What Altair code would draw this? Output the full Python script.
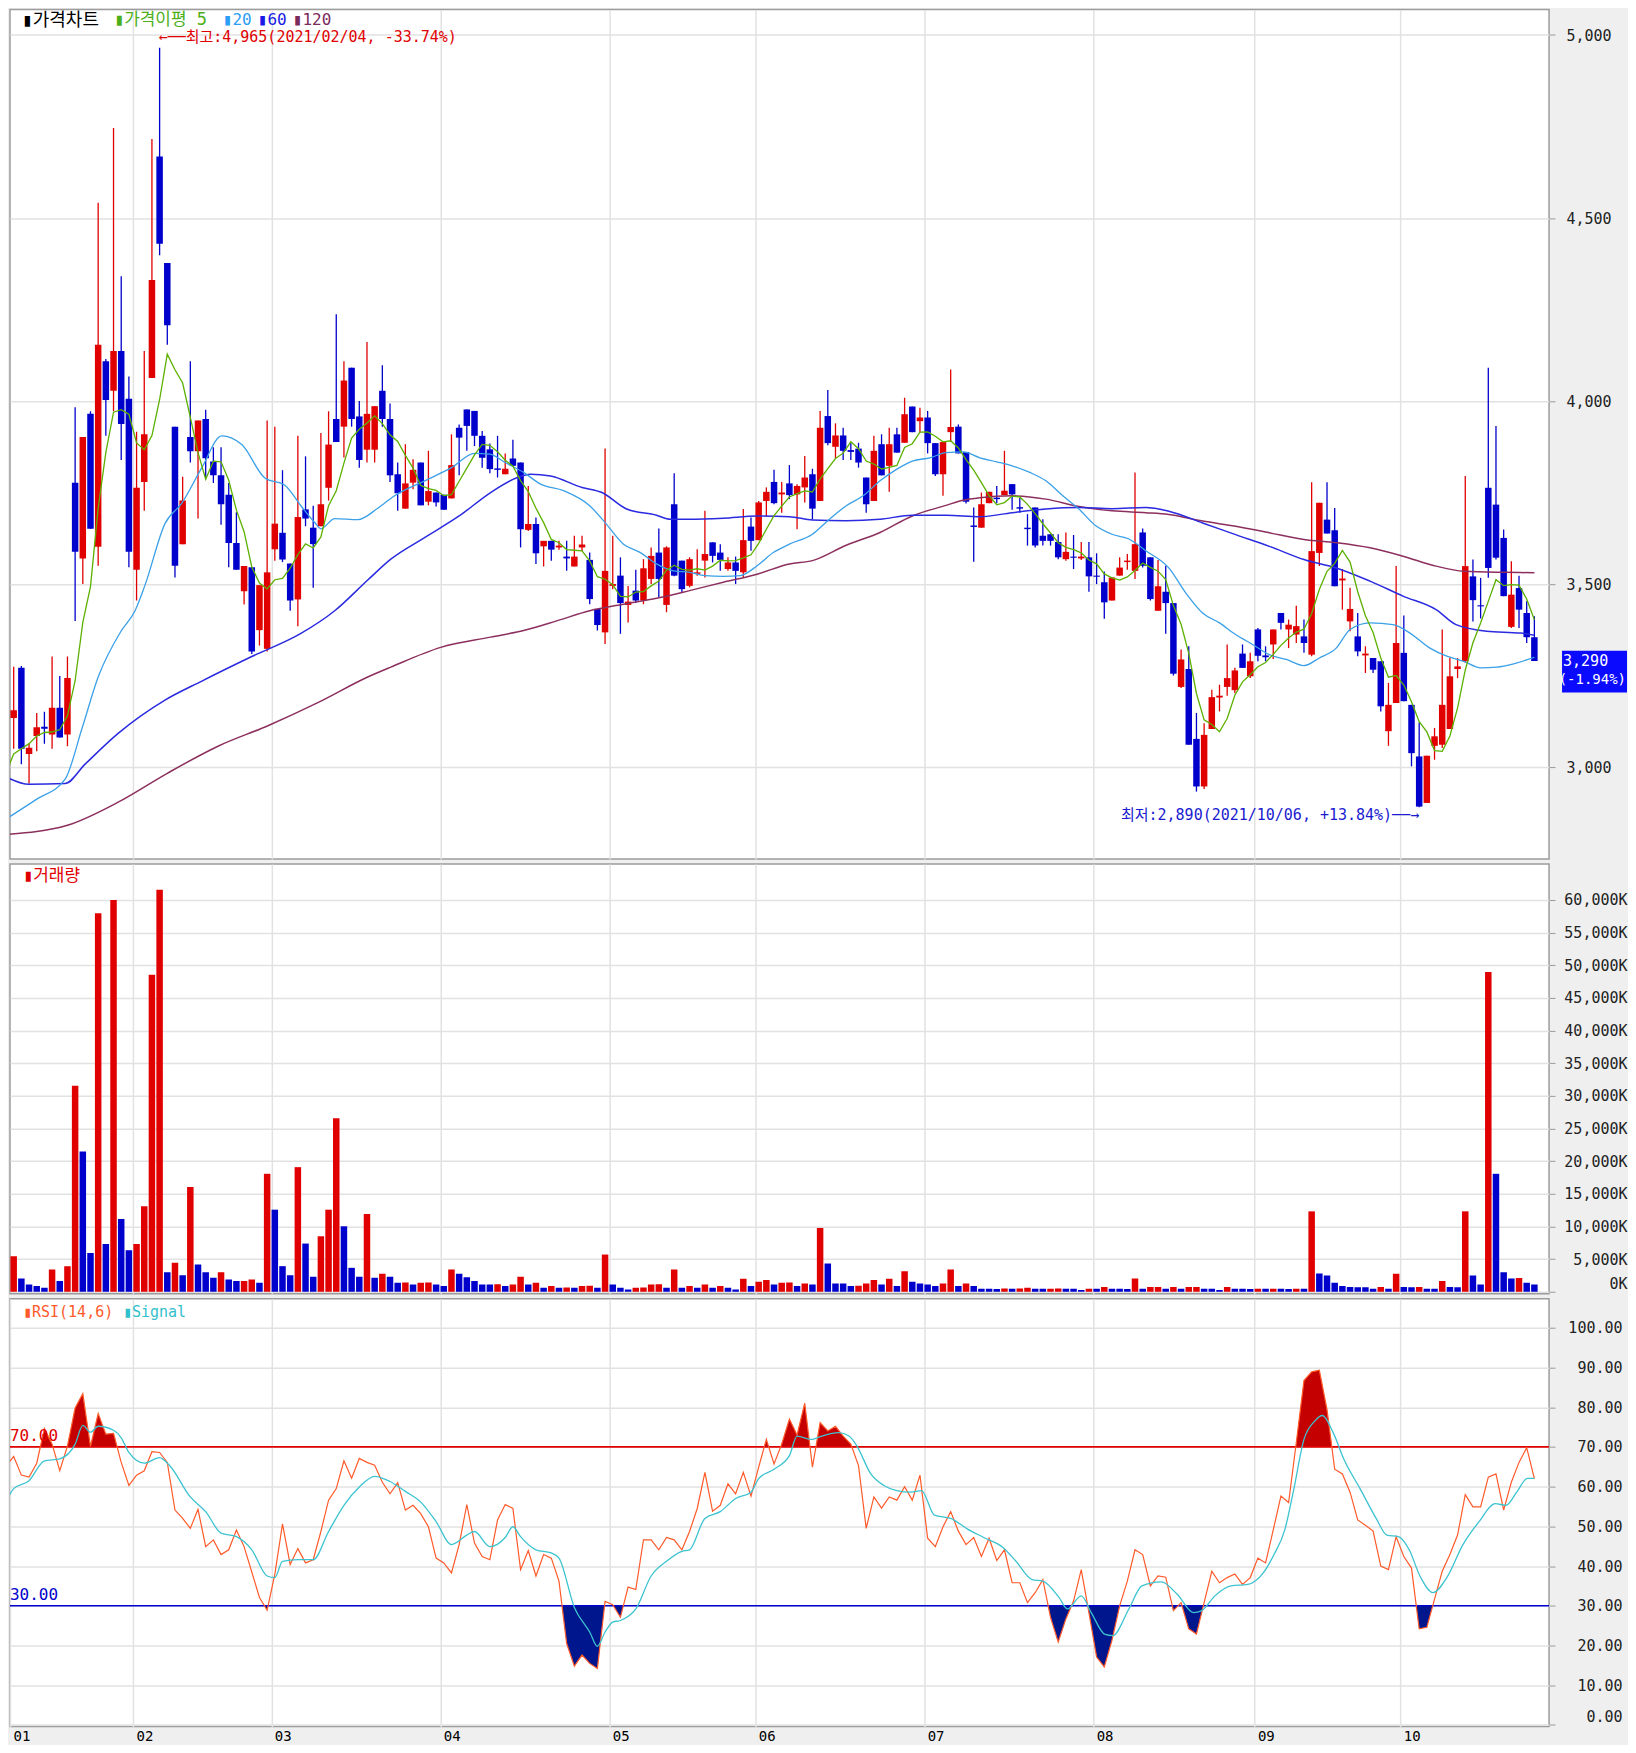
import altair as alt
import pandas as pd

# ---------------- data ----------------
month_labels = ["01", "02", "03", "04", "05", "06", "07", "08", "09", "10"]
month_start = [0, 17, 35, 57, 79, 98, 120, 142, 163, 182]

opens = [3040,3134,3271,3036,3085,3110,3089,3162,3089,3777,
 3570,3965,3602,4109,4028,4137,4006,3539,3779,4063,
 4668,4377,3930,3609,3902,3863,3951,3835,3797,3744,
 3612,3480,3546,3374,3323,3595,3640,3556,3458,3704,
 3654,3658,3763,3951,3930,4091,3958,3867,3867,4028,
 3951,3800,3706,3777,3832,3725,3750,3744,3734,3927,
 3977,3973,3905,3868,3816,3800,3843,3832,3648,3664,
 3603,3618,3600,3575,3548,3600,3566,3432,3368,3495,
 3523,3443,3482,3455,3514,3586,3443,3718,3564,3495,
 3528,3564,3614,3586,3541,3559,3532,3657,3620,3727,
 3779,3745,3775,3745,3764,3800,3727,3959,3875,3906,
 3866,3870,3791,3727,3882,3823,3909,3886,3985,3945,
 3955,3885,3800,3915,3930,3861,3660,3654,3721,3736,
 3743,3773,3710,3654,3709,3632,3636,3615,3568,3575,
 3570,3573,3523,3505,3455,3523,3560,3536,3641,3573,
 3427,3479,3448,3219,3268,3077,2947,3104,3190,3219,
 3210,3310,3248,3376,3305,3335,3421,3376,3362,3357,
 3307,3585,3676,3647,3510,3398,3357,3305,3298,3289,
 3098,3175,3312,3170,3029,2902,3058,3061,3104,3268,
 3289,3521,3442,3763,3717,3626,3383,3489,3421,3355]
highs = [3081,3274,3276,3064,3148,3151,3302,3249,3302,3983,
 3902,3972,4542,4115,4746,4341,4067,3916,4137,4716,
 4965,4377,3930,3793,4109,3947,3976,3874,3874,3776,
 3696,3549,3546,3497,3947,3930,3811,3556,3905,3849,
 3714,3913,3972,4237,4109,4091,4000,4161,3986,4098,
 3993,3832,3882,3841,3832,3864,3750,3744,3909,3936,
 3977,3973,3918,3884,3905,3857,3894,3832,3768,3682,
 3618,3618,3618,3618,3632,3632,3586,3432,3870,3632,
 3573,3495,3539,3568,3600,3652,3603,3803,3564,3573,
 3595,3700,3614,3609,3573,3575,3705,3682,3727,3764,
 3812,3779,3825,3773,3850,3815,3973,4030,3939,3927,
 3886,3886,3791,3905,3909,3927,3927,4009,3985,3982,
 3973,3885,3888,4086,3936,3861,3709,3750,3752,3768,
 3864,3773,3736,3691,3709,3677,3636,3636,3641,3634,
 3615,3615,3584,3534,3518,3573,3582,3805,3652,3573,
 3566,3550,3448,3321,3330,3148,3120,3211,3225,3335,
 3271,3335,3312,3380,3330,3376,3421,3403,3441,3403,
 3778,3722,3778,3708,3541,3490,3421,3330,3298,3289,
 3230,3549,3414,3170,3122,3031,3107,3376,3298,3298,
 3795,3567,3517,4091,3932,3649,3562,3523,3453,3412]
lows = [3011,3050,3008,2955,3043,3064,3050,3081,3057,3399,
 3500,3651,3550,3905,3972,3839,3546,3455,3700,4063,
 4398,4154,3518,3609,3832,3679,3788,3776,3662,3546,
 3539,3444,3309,3332,3316,3564,3560,3427,3385,3658,
 3490,3658,3728,3888,3846,3930,3818,3832,3832,3930,
 3779,3700,3706,3759,3715,3715,3712,3703,3734,3797,
 3864,3877,3818,3803,3791,3800,3823,3600,3645,3555,
 3548,3564,3594,3536,3548,3590,3445,3373,3336,3486,
 3364,3395,3448,3445,3500,3464,3423,3521,3477,3491,
 3523,3518,3559,3536,3536,3500,3518,3591,3620,3684,
 3718,3695,3732,3650,3723,3677,3727,3879,3843,3839,
 3839,3818,3695,3727,3797,3752,3859,3886,3915,3914,
 3857,3795,3741,3888,3857,3720,3561,3654,3721,3721,
 3743,3703,3695,3605,3600,3605,3605,3568,3564,3541,
 3566,3479,3500,3405,3455,3523,3539,3514,3545,3455,
 3427,3364,3250,3216,3061,2933,2940,3104,3152,3195,
 3202,3271,3243,3289,3289,3295,3376,3325,3339,3312,
 3303,3549,3638,3494,3430,3371,3303,3257,3257,3152,
 3058,3175,3180,3002,2890,2902,3020,3052,3104,3243,
 3285,3398,3406,3517,3567,3467,3380,3380,3339,3290]
closes = [3057,3155,3050,3053,3109,3105,3162,3081,3243,3588,
 3902,3651,4154,4003,4137,3937,3588,3763,3909,4331,
 4430,4207,3550,3728,3863,3947,3844,3797,3718,3612,
 3539,3549,3316,3497,3532,3665,3567,3455,3683,3679,
 3609,3718,3881,3888,4056,3951,3839,3965,3986,3951,
 3797,3748,3775,3812,3715,3754,3723,3703,3825,3900,
 3932,3905,3845,3814,3812,3815,3823,3650,3664,3584,
 3618,3594,3605,3570,3575,3608,3459,3388,3536,3500,
 3448,3452,3455,3543,3577,3514,3600,3523,3486,3568,
 3532,3582,3577,3566,3559,3536,3620,3618,3723,3752,
 3721,3750,3743,3768,3791,3706,3927,3885,3906,3864,
 3861,3832,3718,3864,3797,3882,3859,3964,3915,3955,
 3885,3800,3888,3929,3857,3725,3656,3718,3752,3732,
 3755,3745,3706,3650,3605,3618,3618,3573,3588,3572,
 3575,3521,3520,3450,3518,3545,3564,3609,3550,3459,
 3494,3448,3255,3294,3061,2947,3088,3191,3195,3243,
 3264,3271,3289,3304,3300,3376,3394,3389,3385,3339,
 3590,3722,3638,3494,3515,3432,3316,3310,3266,3166,
 3170,3339,3180,3038,2892,3031,3084,3170,3248,3275,
 3549,3456,3439,3544,3572,3467,3471,3430,3355,3290]

# volume in thousands of shares; colour flag: r = above previous day, b = below
volumes = [1100,5440,2035,1119,865,610,3408,1628,3917,31536,
 21465,5951,57934,7325,59969,11139,6358,7325,13072,48525,
 61546,3000,4425,2543,16022,4171,3001,2136,3001,1882,
 1628,1650,1880,1373,18057,12563,3917,2543,19074,7376,
 2289,8494,12563,26551,10020,3662,2289,11902,2136,2747,
 2289,1373,1420,1119,1373,1400,1119,865,3408,2747,
 2238,1628,1119,1100,1150,865,1119,2289,1119,1373,
 610,865,610,650,610,865,900,610,5697,1119,
 610,356,610,650,1119,1150,610,3408,610,865,
 610,1119,610,865,610,356,1984,865,1526,1780,
 1119,1373,1400,865,1272,1119,9766,4323,1272,1250,
 865,900,1272,1780,1119,1984,865,3154,1526,1272,
 1119,865,1272,3408,865,1272,865,458,450,440,
 480,450,480,610,458,450,470,480,458,450,
 254,458,450,712,458,450,440,2035,458,712,
 720,458,712,458,712,720,458,450,254,712,
 458,450,440,458,450,458,450,440,458,450,
 12309,2798,2492,1373,865,712,700,690,458,712,
 458,2747,712,700,720,458,450,1628,712,700,
 12309,2492,1119,48932,18057,3001,2035,2100,1373,1119]
vol_flag = ("brbbbbrbrr" "bbrbrbbrrr" "rbrbrbbbrb" "brrbrbbbrb" "brrrbbbrbr"
            "bbrbrrbbrb" "bbbbrbrrbr" "brbrbrrbrb" "bbrrrrbrbr" "brbrbbrbrr"
            "brrbrbrbbb" "brrrbrbrbb" "bbrrbrbbbb" "rbrrbbrrbb" "brbrbbbrbr"
            "rbrbrrbbbr" "bbbrbrbbrb" "rbbbbbbbbr" "brbbrbbrbb" "rbbrbbbrbb")

rsi = [65.1,67.6,62.9,62.4,65.9,74.6,70.7,64.0,70.2,79.8,
 83.4,70.1,78.4,73.2,73.4,66.1,60.3,62.9,64.0,68.8,
 68.6,66.1,54.1,52.0,49.5,54.3,44.9,46.6,42.9,44.1,
 49.1,44.9,38.5,32.1,28.9,37.9,50.6,40.4,44.4,40.8,
 41.6,48.7,56.6,59.5,66.5,62.1,67.1,66.1,65.4,61.1,
 58.2,61.0,54.1,55.3,53.2,49.9,42.0,40.8,38.3,45.4,
 55.5,45.8,42.4,41.6,51.6,55.5,54.5,39.1,43.9,37.5,
 42.9,42.0,36.2,20.5,14.8,17.6,15.5,14.2,31.1,30.3,
 27.1,34.7,34.1,46.6,46.6,44.1,47.2,46.6,44.1,48.7,
 54.5,63.6,53.8,55.3,60.7,58.2,63.6,57.6,64.9,71.9,
 65.7,70.7,77.0,73.0,81.0,64.9,76.1,74.0,75.2,72.7,
 70.7,65.3,49.5,57.4,54.6,57.4,56.6,60.0,56.6,62.9,
 47.0,44.9,49.9,53.7,48.8,45.4,47.2,42.4,47.0,41.4,
 44.1,35.8,35.8,30.8,33.3,36.6,27.1,20.9,26.7,31.2,
 39.1,28.3,17.1,14.6,21.3,30.0,36.2,44.1,42.9,35.0,
 37.5,37.2,28.8,30.8,24.2,22.9,30.8,38.7,35.8,37.1,
 38.0,35.4,37.1,42.0,40.8,49.1,57.6,56.0,71.1,86.7,
 88.9,89.3,79.4,64.4,63.2,58.6,51.6,50.3,48.8,40.0,
 39.1,47.4,42.4,39.5,24.2,24.6,31.7,38.7,42.9,47.8,
 58.0,54.9,54.9,62.4,63.2,54.1,61.1,66.1,69.8,62.0]

sig_i = [0,1,3,5,7,9,10,11,12,14,
 15,16,18,20,21.3,24,26,28,30,32,
 34,35,36,38,40,42,44,46,48,50,
 52,54,56,58,60,61,63,65,66,67,
 69,71,72,74,76,77,78,79,80,82,
 84,86,88,89,91,93,95,97,98,100,
 102,103,104.9,106,108.4,109.8,110.8,112.6,114.3,116,
 117.8,119.2,120.9,123,125.2,127.3,129.8,131.5,133.6,135,
 137.1,138.2,140,141.3,143.1,144.1,146.2,147.9,150.4,152.5,
 154.6,155.7,157.4,159.5,161.7,163.7,165.1,166.5,167.6,169,
 170.4,171.4,172.8,174.2,176.3,178.4,179.8,181.3,182.7,184.1,
 185.8,187.6,189.7,191.8,193.9,195.3,196.7,198.1,199]
sig_v = [56,59.5,61.5,66.5,67,70.7,75.4,73.7,75.2,74.2,
 72.3,68.6,65.9,67.3,65.3,57.4,53.7,48.3,47.4,44.1,
 37.5,37.1,41.2,41.6,41.6,48.7,55.3,59.9,62.6,61.3,
 58.8,56.1,51.2,45.4,47.8,48.7,44.9,47.2,49.9,47.4,
 44.1,43.3,42,29.6,23.4,19.8,23.4,25.9,26.3,29.2,
 37.5,41.2,43.7,44.1,52,53.7,57,58.6,62,64.4,
 67.8,72.7,71.9,72.6,73.6,72.7,70.2,63.2,60.3,59,
 58.6,59,52.8,52,49.3,47.2,44.7,41.2,36.6,36.2,
 32.1,29.2,32.5,28.3,22.8,22.5,29.2,35,36,32.9,
 28.3,28.8,32.5,35,35.4,38.3,42.9,49.1,58.6,71.9,
 76.5,77.9,73.6,66.9,59.5,52,47.8,47.4,44.1,37.5,
 33.3,37.1,45.4,51.2,55.7,55.3,58.6,62.1,62.1]

ma5_head = [2983, 3036, 3050, 3064]
ma20_i = [0,3.9,7.7,9.9,12,15,16.8,18.1,20.7,22.9,
 25.5,28.1,30.7,33.7,36.3,38.4,40.2,41,42.8,45.8,
 48.4,50.5,54.5,58,61,63,65,67.4,69.6,72.6,
 76,78,80.4,82.6,84.7,86.9,89,91,93.4,95.6,
 97.8,99.9,102,105,107,109.4,111.6,113.8,116,118,
 120.3,122.4,124.6,126.8,129,131,133.3,135.4,137.6,139.7,
 141.9,144,146.2,148.4,151.4,153.6,155.8,158,160.1,162.3,
 164.5,166.7,169,171,173.2,175,177.6,180.6,182.8,185.4,
 187.6,189.8,192,194.1,196.3,199]
ma20_v = [2858,2911,2967,3106,3246,3372,3427,3497,3665,3721,
 3818,3905,3881,3790,3770,3714,3668,3651,3679,3676,
 3707,3740,3782,3818,3857,3855,3832,3805,3773,3755,
 3714,3668,3609,3586,3555,3536,3532,3523,3521,3523,
 3550,3586,3609,3636,3673,3714,3741,3782,3814,3836,
 3845,3859,3861,3845,3834,3823,3805,3782,3741,3705,
 3659,3636,3623,3591,3544,3476,3421,3394,3362,3335,
 3307,3294,3277,3298,3325,3376,3394,3389,3366,3325,
 3303,3289,3271,3273,3282,3300]
ma60_i = [0,3,7.7,10.3,14.6,20.7,25.5,32,38.4,42.8,
 47.1,50.1,54.5,59,63.1,66.6,68.3,70.9,75,77.6,
 80.8,84.7,86.5,89,93.4,97.8,102,105,109.4,113.8,
 118,122.4,126.8,131,135.4,139.7,144,148.4,151.4,155.8,
 160.1,164.5,169,173.2,177.6,181.9,186.2,188.8,192.8,197.2,199]
ma60_v = [2973,2953,2955,3008,3092,3183,3235,3302,3365,3427,
 3511,3568,3627,3686,3750,3791,3800,3795,3764,3750,
 3705,3688,3677,3677,3680,3686,3684,3675,3673,3677,
 3688,3688,3684,3695,3705,3709,3706,3709,3699,3667,
 3635,3603,3567,3544,3508,3467,3430,3389,3371,3366,3360]
ma120_i = [0,8,14.6,21,27.6,34.1,40.6,47.1,50.1,56.6,
 63.1,67.4,71.8,76,80.4,84.7,89,93.4,97.8,102,
 105,109.4,113.8,118,122.4,124.6,126.8,131,135.4,139.7,
 144,148.4,151.4,155.8,160.1,164.5,169,173.2,177.6,181.9,
 186.2,189.8,195,199]
ma120_v = [2816,2841,2904,2983,3057,3113,3176,3246,3273,3327,
 3355,3373,3400,3427,3445,3461,3482,3505,3527,3555,
 3564,3606,3641,3686,3715,3729,3736,3741,3732,3712,
 3700,3695,3690,3672,3658,3640,3622,3613,3599,3576,
 3549,3535,3532,3531]

hi_note = "←──최고:4,965(2021/02/04, -33.74%)"
hi_idx = 20
lo_note = "최저:2,890(2021/10/06, +13.84%)──→"
lo_idx = 184

# ---------------- style ----------------
RED = "#e00000"
BLUE = "#0000cc"
GRID = "#e2e2e2"
MONO = "DejaVu Sans Mono"
KR = "DejaVu Sans Mono, Noto Sans CJK KR"
W = 1540
H_P, H_V, H_R = 850, 430, 428
XMIN, XMAX = 0.52, 200.91

N = len(closes)
idx = list(range(N))
cd = pd.DataFrame({"i": idx, "o": opens, "h": highs, "l": lows, "c": closes})
cd["dir"] = ["up" if c >= o else "down" for o, c in zip(opens, closes)]
ma5 = list(ma5_head) + [sum(closes[k - 4:k + 1]) / 5 for k in range(4, N)]

xscale = alt.Scale(domain=[XMIN, XMAX], nice=False, zero=False, padding=0)
grid_vals = [s - 0.45 for s in month_start[1:]]
x_hidden = alt.Axis(values=grid_vals, grid=True, gridColor=GRID, gridWidth=1.5,
                    labels=False, ticks=False, domain=False, title=None)
expr = f"'{month_labels[-1]}'"
for k in range(len(grid_vals) - 1, -1, -1):
    expr = f"datum.value < {grid_vals[k] - 0.2:.2f} ? '{month_labels[k]}' : ({expr})"
x_full = alt.Axis(values=[XMIN + 0.01] + grid_vals, labelExpr=expr, grid=True, gridColor=GRID,
                  gridWidth=1.5, ticks=False, domain=False, title=None, labelAlign="left",
                  labelBaseline="top", labelPadding=3, labelOffset=3, labelFont=MONO,
                  labelFontSize=14, labelColor="#000", labelFlush=False, labelOverlap=False)

updown = alt.Scale(domain=["up", "down"], range=[RED, BLUE])


def label(text, x, y, color, size=17, font=KR, align="left"):
    return alt.Chart(pd.DataFrame({"t": [text]})).mark_text(
        align=align, baseline="top", color=color, fontSize=size, font=font
    ).encode(x=alt.value(x), y=alt.value(y), text="t:N")


# ---------------- price panel ----------------
pscale = alt.Scale(domain=[2748.8, 5069.6], nice=False, zero=False)
paxis = alt.Axis(orient="right", values=[3000, 3500, 4000, 4500, 5000], format=",.0f", grid=True,
                 gridColor=GRID, gridWidth=1.5, tickColor="#9a9a9a", tickSize=6,
                 labelAlign="right", labelPadding=56, labelFont=MONO, labelFontSize=15,
                 labelColor="#222", domain=False, title=None)


def PX():
    return alt.X("i:Q", scale=xscale, axis=x_hidden)


def PY(f):
    return alt.Y(f"{f}:Q", scale=pscale, axis=paxis)


base = alt.Chart(cd)
wick = base.mark_rule(strokeWidth=1.3, clip=True).encode(
    x=PX(), y=PY("l"), y2="h:Q", color=alt.Color("dir:N", scale=updown, legend=None))
body = base.mark_bar(size=6.5, clip=True).encode(
    x=PX(), y=PY("o"), y2="c:Q", color=alt.Color("dir:N", scale=updown, legend=None))


def ma_line(ii, vv, color, width):
    return alt.Chart(pd.DataFrame({"i": ii, "v": vv})).mark_line(
        color=color, strokeWidth=width, interpolate="monotone", clip=True).encode(x=PX(), y=PY("v"))


l120 = ma_line(ma120_i, ma120_v, "#8c2f5e", 1.5)
l60 = ma_line(ma60_i, ma60_v, "#2a2ae0", 1.5)
l20 = ma_line(ma20_i, ma20_v, "#3aa0e8", 1.3)
l5 = alt.Chart(pd.DataFrame({"i": idx, "v": ma5})).mark_line(
    color="#5cb000", strokeWidth=1.3, clip=True).encode(x=PX(), y=PY("v"))

hi_df = pd.DataFrame({"i": [hi_idx], "p": [highs[hi_idx]], "t": [hi_note]})
hi_txt = alt.Chart(hi_df).mark_text(align="left", baseline="middle", dx=-1, dy=-11, color=RED,
                                    fontSize=15, font=KR).encode(x=PX(), y=PY("p"), text="t:N")
lo_df = pd.DataFrame({"i": [lo_idx], "p": [lows[lo_idx]], "t": [lo_note]})
lo_txt = alt.Chart(lo_df).mark_text(align="right", baseline="middle", dx=0, dy=8, color="#1a1ad0",
                                    fontSize=15, font=KR).encode(x=PX(), y=PY("p"), text="t:N")

last, prev = closes[-1], closes[-2]
box_df = pd.DataFrame({"top": [last + 28], "bot": [last - 86]})
box = alt.Chart(box_df).mark_rect(color="#0a0aff").encode(
    x=alt.value(1553), x2=alt.value(1618), y=PY("top"), y2="bot:Q")
pct = (last / prev - 1) * 100
cur_df = pd.DataFrame({"p": [last], "t1": [f"{last:,}"], "t2": [f"({pct:.2f}%)"]})
cur1 = alt.Chart(cur_df).mark_text(align="left", baseline="middle", color="white", fontSize=15,
                                   font=MONO).encode(x=alt.value(1554), y=PY("p"), text="t1:N")
cur2 = alt.Chart(cur_df).mark_text(align="right", baseline="middle", dy=19, color="white",
                                   fontSize=14, font=MONO).encode(x=alt.value(1617), y=PY("p"), text="t2:N")

price = alt.layer(
    wick, body, l120, l60, l20, l5, hi_txt, lo_txt, box, cur1, cur2,
    label("▮가격차트", 12, 2.5, "#000", size=18),
    label("▮가격이평 5", 104, 2.5, "#4caf1a"),
    label("▮20", 213, 2.5, "#2a9df4", size=16),
    label("▮60", 248, 2.5, "#1a1ae6", size=16),
    label("▮120", 283, 2.5, "#7b2a5c", size=16),
).properties(width=W, height=H_P)

# ---------------- volume panel ----------------
vd = pd.DataFrame({"i": idx, "v": volumes, "f": ["up" if ch == "r" else "down" for ch in vol_flag]})
vscale = alt.Scale(domain=[-305, 65482], nice=False, zero=False)
vaxis = alt.Axis(orient="right", values=list(range(0, 60001, 5000)),
                 labelExpr="format(datum.value, ',') + 'K'", grid=True, gridColor=GRID,
                 gridWidth=1.5, tickColor="#9a9a9a", tickSize=6, labelAlign="right",
                 labelPadding=72, labelFont=MONO, labelFontSize=15, labelColor="#222",
                 domain=False, title=None, labelFlush=10)
vbars = alt.Chart(vd).mark_bar(size=6.5, clip=True).encode(
    x=alt.X("i:Q", scale=xscale, axis=x_hidden),
    y=alt.Y("v:Q", scale=vscale, axis=vaxis),
    color=alt.Color("f:N", scale=updown, legend=None))
volume = alt.layer(vbars, label("▮거래량", 13, 4, RED)).properties(width=W, height=H_V)

# ---------------- RSI panel ----------------
pts = []
for k in range(N):
    pts.append((float(k), rsi[k]))
    if k < N - 1:
        a, b = rsi[k], rsi[k + 1]
        for lvl in (70, 30):
            if (a - lvl) * (b - lvl) < 0:
                pts.append((k + (lvl - a) / (b - a), float(lvl)))
pts.sort()
dense = pd.DataFrame(pts, columns=["i", "r"])
dense["hi"] = dense["r"].clip(lower=70)
dense["lo"] = dense["r"].clip(upper=30)
dense["b70"] = 70.0
dense["b30"] = 30.0

rscale = alt.Scale(domain=[-0.38, 107.3], nice=False, zero=False)
raxis = alt.Axis(orient="right", values=list(range(0, 101, 10)), format=".2f", grid=True,
                 gridColor=GRID, gridWidth=1.5, tickColor="#9a9a9a", tickSize=6,
                 labelAlign="right", labelPadding=67, labelFont=MONO, labelFontSize=15,
                 labelColor="#222", domain=False, title=None, labelFlush=10)


def RX():
    return alt.X("i:Q", scale=xscale, axis=x_full)


def RY(f):
    return alt.Y(f"{f}:Q", scale=rscale, axis=raxis)


fill_hi = alt.Chart(dense).mark_area(color="#c40000", clip=True).encode(x=RX(), y=RY("hi"), y2="b70:Q")
fill_lo = alt.Chart(dense).mark_area(color="#00168c", clip=True).encode(x=RX(), y=RY("lo"), y2="b30:Q")
lv = pd.DataFrame({"v": [70, 30], "t": ["70.00", "30.00"], "col": ["a", "b"]})
lvl_colors = alt.Scale(domain=["a", "b"], range=["#e02a2a", "#1c2c9c"])
lines = alt.Chart(lv).mark_rule(strokeWidth=1.6).encode(
    y=RY("v"), color=alt.Color("col:N", scale=lvl_colors, legend=None))
lvl_txt = alt.Chart(lv).mark_text(align="left", baseline="middle", dy=-11, fontSize=16, font=MONO).encode(
    x=alt.value(0), y=RY("v"), text="t:N", color=alt.Color("col:N", scale=lvl_colors, legend=None))
rsi_line = alt.Chart(pd.DataFrame({"i": idx, "r": rsi})).mark_line(
    color="#ff5a2a", strokeWidth=1.2, clip=True).encode(x=RX(), y=RY("r"))
sig_line = alt.Chart(pd.DataFrame({"i": sig_i, "s": sig_v})).mark_line(
    color="#3cc3d0", strokeWidth=1.3, interpolate="monotone", clip=True).encode(x=RX(), y=RY("s"))

rsi_chart = alt.layer(
    fill_hi, fill_lo, lines, rsi_line, sig_line, lvl_txt,
    label("▮RSI(14,6)", 13, 6, "#ff5a2a", size=15),
    label("▮Signal", 113, 6, "#30c0cc", size=15),
).properties(width=W, height=H_R)

chart = alt.vconcat(price, volume, rsi_chart, spacing=3).properties(
    background="#efefef", padding=0
).configure_view(fill="white", stroke="#9c9c9c", strokeWidth=1.5)

chart.save("out.html", embed_options={"renderer": "svg", "actions": False})
